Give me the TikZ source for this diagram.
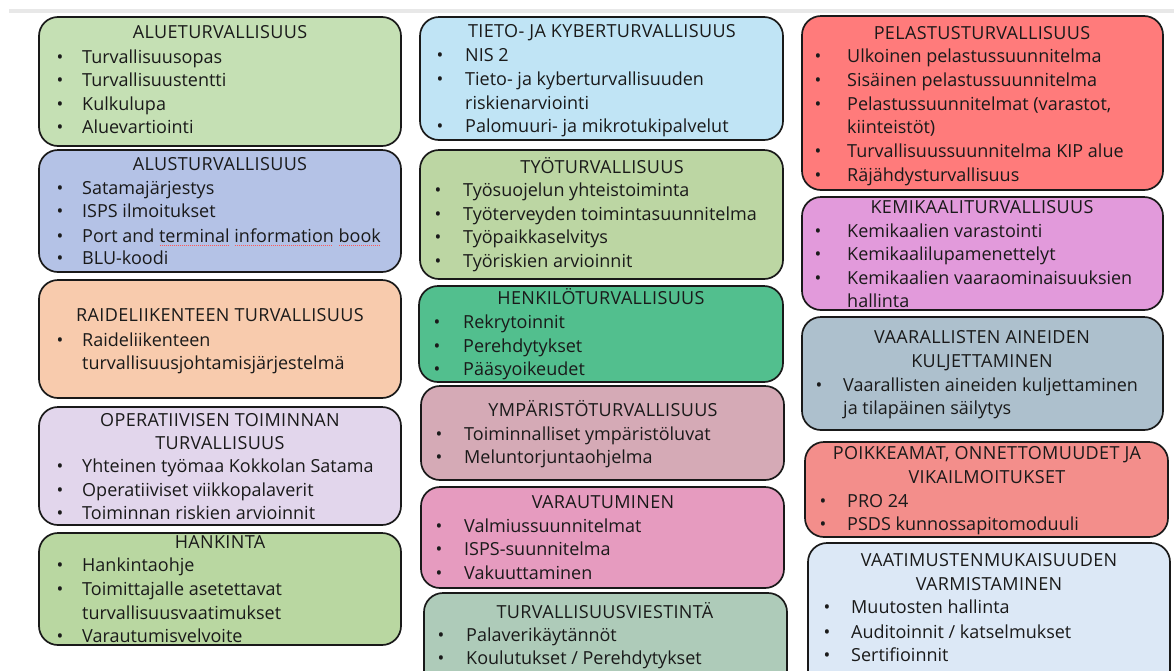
\documentclass[tikz,border=0pt]{standalone}
\usepackage{fontspec}
\setmainfont{Open Sans}
\usetikzlibrary{fit}
\definecolor{cAlue}{HTML}{C5E0B4}
\definecolor{cAlus}{HTML}{B4C2E6}
\definecolor{cRaide}{HTML}{F8CBAD}
\definecolor{cOper}{HTML}{E2D6EC}
\definecolor{cHank}{HTML}{B9D7A1}
\definecolor{cTieto}{HTML}{C0E4F5}
\definecolor{cTyo}{HTML}{BCD6A3}
\definecolor{cHenk}{HTML}{52BF8E}
\definecolor{cYmp}{HTML}{D5AAB6}
\definecolor{cVar}{HTML}{E69BBF}
\definecolor{cTv}{HTML}{AECBB9}
\definecolor{cPel}{HTML}{FF7B7B}
\definecolor{cKem}{HTML}{E29ADB}
\definecolor{cVaar}{HTML}{ADC0CD}
\definecolor{cPoik}{HTML}{F38E8B}
\definecolor{cVaat}{HTML}{DCE8F6}
\definecolor{ink}{HTML}{1A1A1A}
\definecolor{topbar}{HTML}{E8E8E8}
\newcommand\spellu[1]{\setbox0\hbox{#1}\rlap{\raisebox{-3.2pt}{\color{red!65}\leaders\hbox to 2pt{\hss\rule{1.1pt}{0.7pt}\hss}\hskip\wd0}}\box0\relax}
\newcommand\itm[5]{\node[bul] (#1b) at (#2,#4) {•};\node[txt] (#1) at (#3,#4) {#5};}
\newcommand\cont[4]{\node[txt] (#1) at (#2,#3) {#4};}
\newcommand\ttl[4]{\node[ttlst] (#1) at (#2,#3) {#4};}
\tikzset{
  catbox/.style={draw=black!90, line width=1.7pt, rounded corners=19pt, inner sep=0pt},
  txt/.style={anchor=west, inner sep=0pt, text height=12.8pt, text depth=0pt, text=ink, font=\fontsize{18}{21}\selectfont},
  bul/.style={txt, anchor=center},
  ttlst/.style={txt, anchor=center, font=\fontsize{18}{21}\selectfont\addfontfeature{LetterSpace=2}}
}
\begin{document}
\begin{tikzpicture}[x=1pt,y=-1pt]
\clip (0,0) rectangle (1174,670);
\fill[white] (0,0) rectangle (1174,670);
\fill[topbar] (9,9) rectangle (1174,12.5);

% ---- column 1 ----
\node[catbox, fill=cAlue, fit={(39,17) (401,146)}] (alue) {};
\ttl{alueT}{220}{32}{ALUETURVALLISUUS}
\itm{alue1}{60}{82}{57}{Turvallisuusopas}
\itm{alue2}{60}{82}{80}{Turvallisuustentti}
\itm{alue3}{60}{82}{104}{Kulkulupa}
\itm{alue4}{60}{82}{127}{Aluevartiointi}

\node[catbox, fill=cAlus, fit={(39,150) (401,272)}] (alus) {};
\ttl{alusT}{220}{164}{ALUSTURVALLISUUS}
\itm{alus1}{60}{82}{188}{Satamajärjestys}
\itm{alus2}{60}{82}{211}{ISPS ilmoitukset}
\itm{alus3}{60}{82}{236}{Port and \spellu{terminal} \spellu{information} \spellu{book}}
\itm{alus4}{60}{82}{258}{BLU-koodi}

\node[catbox, fill=cRaide, fit={(39,280) (401,398)}] (raide) {};
\ttl{raideT}{220}{315}{RAIDELIIKENTEEN TURVALLISUUS}
\itm{raide1}{60}{82}{340}{Raideliikenteen}
\cont{raide1c}{82}{363}{turvallisuusjohtamisjärjestelmä}

\node[catbox, fill=cOper, fit={(39,407) (401,525)}] (oper) {};
\ttl{operT}{220}{420}{OPERATIIVISEN TOIMINNAN}
\ttl{operT2}{220}{443}{TURVALLISUUS}
\itm{oper1}{60}{82}{466}{Yhteinen työmaa Kokkolan Satama}
\itm{oper2}{60}{82}{490}{Operatiiviset viikkopalaverit}
\itm{oper3}{60}{82}{513}{Toiminnan riskien arvioinnit}

\node[catbox, fill=cHank, fit={(39,533) (401,645)}] (hank) {};
\ttl{hankT}{220}{542}{HANKINTA}
\itm{hank1}{60}{82}{565}{Hankintaohje}
\itm{hank2}{60}{82}{589}{Toimittajalle asetettavat}
\cont{hank2c}{82}{613}{turvallisuusvaatimukset}
\itm{hank3}{60}{82}{636}{Varautumisvelvoite}

% ---- column 2 ----
\node[catbox, fill=cTieto, fit={(420,17) (783,140)}] (tieto) {};
\ttl{tietoT}{602}{31}{TIETO- JA KYBERTURVALLISUUS}
\itm{tieto1}{440}{465}{55}{NIS 2}
\itm{tieto2}{440}{465}{79}{Tieto- ja kyberturvallisuuden}
\cont{tieto2c}{465}{103}{riskienarviointi}
\itm{tieto3}{440}{465}{126}{Palomuuri- ja mikrotukipalvelut}

\node[catbox, fill=cTyo, fit={(420,150) (783,279)}] (tyo) {};
\ttl{tyoT}{602}{167}{TYÖTURVALLISUUS}
\itm{tyo1}{438}{463}{190}{Työsuojelun yhteistoiminta}
\itm{tyo2}{438}{463}{214}{Työterveyden toimintasuunnitelma}
\itm{tyo3}{438}{463}{237}{Työpaikkaselvitys}
\itm{tyo4}{438}{463}{261}{Työriskien arvioinnit}

\node[catbox, fill=cHenk, fit={(419,286) (783,382)}] (henk) {};
\ttl{henkT}{601}{298}{HENKILÖTURVALLISUUS}
\itm{henk1}{437}{463}{322}{Rekrytoinnit}
\itm{henk2}{437}{463}{346}{Perehdytykset}
\itm{henk3}{437}{463}{369}{Pääsyoikeudet}

\node[catbox, fill=cYmp, fit={(421,386) (784,480)}] (ymp) {};
\ttl{ympT}{603}{410}{YMPÄRISTÖTURVALLISUUS}
\itm{ymp1}{439}{464}{434}{Toiminnalliset ympäristöluvat}
\itm{ymp2}{439}{464}{457}{Meluntorjuntaohjelma}

\node[catbox, fill=cVar, fit={(421,487) (784,588)}] (var) {};
\ttl{varT}{603}{502}{VARAUTUMINEN}
\itm{var1}{439}{464}{526}{Valmiussuunnitelmat}
\itm{var2}{439}{464}{549}{ISPS-suunnitelma}
\itm{var3}{439}{464}{573}{Vakuuttaminen}

\node[catbox, fill=cTv, fit={(424,593) (787,700)}] (tv) {};
\ttl{tvT}{605}{612}{TURVALLISUUSVIESTINTÄ}
\itm{tv1}{441}{466}{635}{Palaverikäytännöt}
\itm{tv2}{441}{466}{658}{Koulutukset / Perehdytykset}

% ---- column 3 ----
\node[catbox, fill=cPel, fit={(802,16) (1163,190)}] (pel) {};
\ttl{pelT}{982}{33}{PELASTUSTURVALLISUUS}
\itm{pel1}{818}{847}{56}{Ulkoinen pelastussuunnitelma}
\itm{pel2}{818}{847}{80}{Sisäinen pelastussuunnitelma}
\itm{pel3}{818}{847}{104}{Pelastussuunnitelmat (varastot,}
\cont{pel3c}{847}{127}{kiinteistöt)}
\itm{pel4}{818}{847}{151}{Turvallisuussuunnitelma KIP alue}
\itm{pel5}{818}{847}{175}{Räjähdysturvallisuus}

\node[catbox, fill=cKem, fit={(802,197) (1163,310)}] (kem) {};
\ttl{kemT}{982}{207}{KEMIKAALITURVALLISUUS}
\itm{kem1}{818}{847}{231}{Kemikaalien varastointi}
\itm{kem2}{818}{847}{254}{Kemikaalilupamenettelyt}
\itm{kem3}{818}{847}{278}{Kemikaalien vaaraominaisuuksien}
\cont{kem3c}{847}{301}{hallinta}

\node[catbox, fill=cVaar, fit={(802,317) (1163,430)}] (vaar) {};
\ttl{vaarT}{982}{337}{VAARALLISTEN AINEIDEN}
\ttl{vaarT2}{982}{361}{KULJETTAMINEN}
\itm{vaar1}{819}{843}{385}{Vaarallisten aineiden kuljettaminen}
\cont{vaar1c}{843}{408}{ja tilapäinen säilytys}

\node[catbox, fill=cPoik, fit={(805,442) (1168,537)}] (poik) {};
\ttl{poikT}{987}{453}{POIKKEAMAT, ONNETTOMUUDET JA}
\ttl{poikT2}{987}{477}{VIKAILMOITUKSET}
\itm{poik1}{823}{847}{501}{PRO 24}
\itm{poik2}{823}{847}{524}{PSDS kunnossapitomoduuli}

\node[catbox, fill=cVaat, fit={(808,543) (1170,700)}] (vaat) {};
\ttl{vaatT}{989}{560}{VAATIMUSTENMUKAISUUDEN}
\ttl{vaatT2}{989}{584}{VARMISTAMINEN}
\itm{vaat1}{827}{851}{607}{Muutosten hallinta}
\itm{vaat2}{827}{851}{632}{Auditoinnit / katselmukset}
\itm{vaat3}{827}{851}{655}{Sertifioinnit}
\end{tikzpicture}
\end{document}
